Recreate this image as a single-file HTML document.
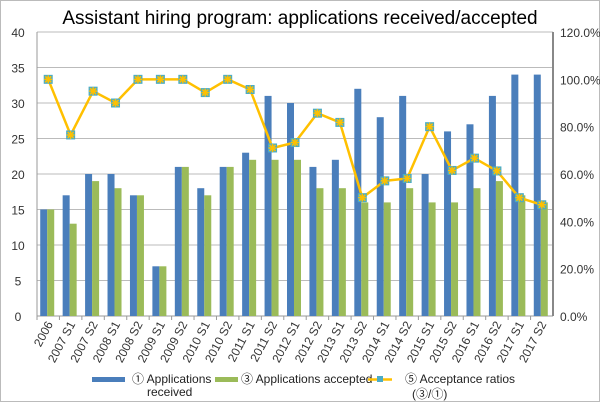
<!DOCTYPE html>
<html><head><meta charset="utf-8"><style>
body{margin:0;background:#fff;font-family:"Liberation Sans","Noto Sans CJK JP",sans-serif}
</style></head><body>
<svg id="c" width="600" height="402" xmlns="http://www.w3.org/2000/svg">
<rect x="0.5" y="0.5" width="599" height="401" fill="#fff" stroke="#bbb"/>
<text x="300" y="24" text-anchor="middle" font-size="19" fill="#000">Assistant hiring program: applications received/accepted</text>
<g id="grid"></g><g id="bars"></g><g id="line"></g><g id="axes"></g>
<g font-size="12" fill="#222">
<rect x="92" y="377" width="33" height="5" fill="#4a7ebb"/>
<text x="132" y="383">① Applications</text>
<text x="147" y="396">received</text>
<rect x="215" y="377" width="23" height="5" fill="#9bbb59"/>
<text x="241" y="383">③ Applications accepted</text>
<line x1="368" y1="379.5" x2="392" y2="379.5" stroke="#ffc000" stroke-width="2.5"/>
<rect x="377" y="376" width="6" height="6" fill="#4bacc6"/>
<text x="405" y="383">⑤ Acceptance ratios</text>
<text x="412" y="398">(③/①)</text>
</g>
</svg>
<script>
const categories=["2006","2007 S1","2007 S2","2008 S1","2008 S2","2009 S1","2009 S2","2010 S1","2010 S2","2011 S1","2011 S2","2012 S1","2012 S2","2013 S1","2013 S2","2014 S1","2014 S2","2015 S1","2015 S2","2016 S1","2016 S2","2017 S1","2017 S2"];
const received=[15,17,20,20,17,7,21,18,21,23,31,30,21,22,32,28,31,20,26,27,31,34,34];
const accepted=[15,13,19,18,17,7,21,17,21,22,22,22,18,18,16,16,18,16,16,18,19,17,16];
const ratios=[100,76.5,95,90,100,100,100,94.4,100,95.7,71,73.3,85.7,81.8,50,57.1,58.1,80,61.5,66.7,61.3,50,47];
const leftTicks=[0,5,10,15,20,25,30,35,40];
const rightTicks=["0.0%","20.0%","40.0%","60.0%","80.0%","100.0%","120.0%"];
const L=37,R=553,T=32,B=316,NS="http://www.w3.org/2000/svg";
const cw=(R-L)/categories.length;
const y=v=>B-(v/40)*(B-T), yr=v=>B-(v/120)*(B-T), xc=i=>L+cw*(i+0.5);
function mk(p,t,a){const e=document.createElementNS(NS,t);for(const k in a)e.setAttribute(k,a[k]);document.getElementById(p).appendChild(e);return e;}
leftTicks.forEach((v,i)=>{const g=mk('grid','line',{x1:L,x2:R,y1:y(v),y2:y(v),stroke:i==0?'#999':'#bbb','stroke-width':1});

const t=mk('axes','text',{x:L-19,y:y(v)+5,'text-anchor':'middle','font-size':12,fill:'#333'});t.textContent=v;
});
rightTicks.forEach((s,i)=>{const t=mk('axes','text',{x:R+7,y:yr(i*20)+5,'font-size':12,fill:'#333'});t.textContent=s;
});
let a=mk('axes','line',{x1:L,x2:L,y1:T,y2:B,stroke:'#999'});
a=mk('axes','line',{x1:R,x2:R,y1:T,y2:B,stroke:'#888','stroke-width':2});
categories.forEach((c,i)=>{
const b=mk('bars','rect',{x:xc(i)-8,y:y(received[i]),width:7,height:B-y(received[i]),fill:'#4a7ebb'});

const g=mk('bars','rect',{x:xc(i)-1,y:y(accepted[i]),width:7,height:B-y(accepted[i]),fill:'#9bbb59'});

const tk=mk('axes','line',{x1:L+cw*i,x2:L+cw*i,y1:B,y2:B+4,stroke:'#999'});

const t=mk('axes','text',{transform:`translate(${xc(i)+5},${B+8}) rotate(-62)`,'text-anchor':'end','font-size':12,fill:'#333'});t.textContent=c;
});
const pl=mk('line','polyline',{points:ratios.map((v,i)=>xc(i)+','+yr(v)).join(' '),fill:'none',stroke:'#ffc000','stroke-width':2.5});

ratios.forEach((v,i)=>{const m=mk('line','rect',{x:xc(i)-4.5,y:yr(v)-4.5,width:9,height:9,fill:'#4bacc6'});

const s=mk('line','path',{d:`M${xc(i)-4},${yr(v)}h8M${xc(i)},${yr(v)-4}v8M${xc(i)-3},${yr(v)-3}l6,6M${xc(i)+3},${yr(v)-3}l-6,6`,stroke:'#ffc000','stroke-width':1.5});
});
</script>
</body></html>
